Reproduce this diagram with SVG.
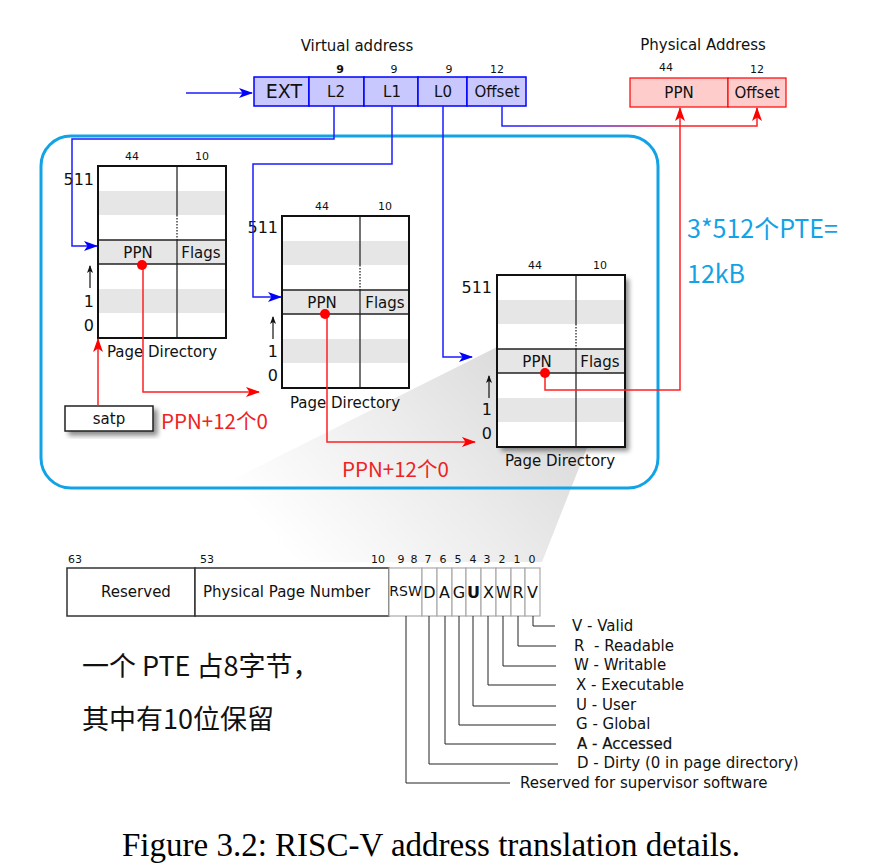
<svg xmlns="http://www.w3.org/2000/svg" width="879" height="866" viewBox="0 0 879 866">
<style>
.t{font-family:"DejaVu Sans","Liberation Sans",sans-serif;fill:#111}
.s11{font-size:11px}
.s15{font-size:15px}
.s16{font-size:16px}
.m{text-anchor:middle}
.e{text-anchor:end}
.cell{stroke:#0000ff;stroke-width:1.5;fill:#c8c8ff}
.pcell{stroke:#ff0000;stroke-width:1.2;fill:#ffcccc}
.bl{stroke:#1c1cff;stroke-width:1.5;fill:none}
.rd{stroke:#ff2020;stroke-width:1.5;fill:none}
.gr{fill:#e6e6e6}
.div{stroke:#444;stroke-width:1.5}
.box{fill:none;stroke:#111;stroke-width:2}
.rowl{stroke:#222;stroke-width:1.5}
.up{stroke:#111;stroke-width:1.2}
.lead{stroke:#222;stroke-width:1;fill:none}
.flag{fill:#fff;stroke:#aaa;stroke-width:1.2}
.cn{font-family:"Noto Sans CJK SC",sans-serif}
</style>
<defs>
<marker id="ab" viewBox="0 0 14 10" refX="13" refY="5" markerWidth="14" markerHeight="10" markerUnits="userSpaceOnUse" orient="auto"><path d="M0,0 L14,5 L0,10 L3.5,5 z" fill="#0000ff"/></marker>
<marker id="ar" viewBox="0 0 14 10" refX="13" refY="5" markerWidth="14" markerHeight="10" markerUnits="userSpaceOnUse" orient="auto"><path d="M0,0 L14,5 L0,10 L3.5,5 z" fill="#ff0000"/></marker>
<marker id="ak" viewBox="0 0 8 6" refX="7" refY="3" markerWidth="8" markerHeight="6" markerUnits="userSpaceOnUse" orient="auto"><path d="M0,0 L8,3 L0,6 L2,3 z" fill="#111"/></marker>
<linearGradient id="off" gradientUnits="userSpaceOnUse" x1="502" y1="0" x2="757" y2="0"><stop offset="0" stop-color="#2020ff"/><stop offset="0.35" stop-color="#5a2ad0"/><stop offset="0.7" stop-color="#ff2020"/><stop offset="1" stop-color="#ff2020"/></linearGradient>
<linearGradient id="shade" gradientUnits="userSpaceOnUse" x1="560" y1="350" x2="300" y2="570"><stop offset="0" stop-color="#d6d6d6"/><stop offset="0.5" stop-color="#ececec"/><stop offset="1" stop-color="#ffffff"/></linearGradient>
<filter id="sh" x="-20%" y="-20%" width="150%" height="150%"><feGaussianBlur in="SourceAlpha" stdDeviation="2.5"/><feOffset dx="4" dy="4"/><feComponentTransfer><feFuncA type="linear" slope="0.45"/></feComponentTransfer><feMerge><feMergeNode/><feMergeNode in="SourceGraphic"/></feMerge></filter>
</defs>
<rect width="879" height="866" fill="#fff"/>

<!-- zoom shading -->
<polygon points="497,347 590,440 542,562 68,562" fill="url(#shade)"/>

<!-- container -->
<rect id="container" x="41" y="136" width="617" height="352" rx="30" ry="30" fill="none" stroke="#12a3e6" stroke-width="3"/>

<!-- virtual address -->
<g id="vaddr">
<text class="t s15 m" x="357" y="51">Virtual address</text>
<rect class="cell" x="254" y="77" width="55" height="29"/>
<rect class="cell" x="309" y="77" width="55" height="29"/>
<rect class="cell" x="364" y="77" width="54" height="29"/>
<rect class="cell" x="418" y="77" width="49" height="29"/>
<rect class="cell" x="467" y="77" width="59" height="29"/>
<text class="t m" style="font-size:19px" x="284" y="98">EXT</text>
<text class="t s15 m" x="336" y="97">L2</text>
<text class="t s15 m" x="392" y="97">L1</text>
<text class="t s15 m" x="443" y="97">L0</text>
<text class="t s15 m" x="497" y="97">Offset</text>
<text class="t s11 m" x="340" y="73" font-weight="bold">9</text>
<text class="t s11 m" x="394" y="73">9</text>
<text class="t s11 m" x="449" y="73">9</text>
<text class="t s11 m" x="497" y="73">12</text>
</g>

<!-- physical address -->
<g id="paddr">
<text class="t s15 m" x="703" y="50">Physical Address</text>
<rect class="pcell" x="630" y="78" width="98" height="29"/>
<rect class="pcell" x="728" y="78" width="58" height="29"/>
<text class="t s15 m" x="679" y="98">PPN</text>
<text class="t s15 m" x="757" y="98">Offset</text>
<text class="t s11 m" x="666" y="71">44</text>
<text class="t s11 m" x="757" y="73">12</text>
</g>

<!-- page directory 1 -->
<g id="pd1">
<rect x="98" y="166" width="128" height="172" fill="#fff"/>
<rect class="gr" x="98" y="191" width="128" height="24"/>
<rect class="gr" x="98" y="240" width="128" height="24"/>
<rect class="gr" x="98" y="289" width="128" height="24"/>
<line class="div" x1="177" y1="166" x2="177" y2="215"/>
<line class="div" x1="177" y1="215" x2="177" y2="240" stroke-dasharray="1.5,1.5"/>
<line class="div" x1="177" y1="240" x2="177" y2="338"/>
<line class="rowl" x1="98" y1="240" x2="226" y2="240"/>
<line class="rowl" x1="98" y1="264" x2="226" y2="264"/>
<rect class="box" x="98" y="166" width="128" height="172"/>
<text class="t s15 m" x="138" y="258">PPN</text>
<text class="t s15 m" x="201" y="258">Flags</text>
<text class="t s11 m" x="132" y="160">44</text>
<text class="t s11 m" x="202" y="160">10</text>
<text class="t s16 e" x="94" y="185">511</text>
<text class="t s16 e" x="94" y="307">1</text>
<text class="t s16 e" x="94" y="331">0</text>
<line class="up" x1="90" y1="288" x2="90" y2="266" marker-end="url(#ak)"/>
<text class="t s15 m" x="162" y="357">Page Directory</text>
</g>

<!-- page directory 2 -->
<g id="pd2">
<rect x="282" y="216" width="127" height="172" fill="#fff"/>
<rect class="gr" x="282" y="241" width="127" height="24"/>
<rect class="gr" x="282" y="290" width="127" height="24"/>
<rect class="gr" x="282" y="339" width="127" height="24"/>
<line class="div" x1="360" y1="216" x2="360" y2="265"/>
<line class="div" x1="360" y1="265" x2="360" y2="290" stroke-dasharray="1.5,1.5"/>
<line class="div" x1="360" y1="290" x2="360" y2="388"/>
<line class="rowl" x1="282" y1="290" x2="409" y2="290"/>
<line class="rowl" x1="282" y1="314" x2="409" y2="314"/>
<rect class="box" x="282" y="216" width="127" height="172"/>
<text class="t s15 m" x="322" y="308">PPN</text>
<text class="t s15 m" x="385" y="308">Flags</text>
<text class="t s11 m" x="322" y="210">44</text>
<text class="t s11 m" x="385" y="210">10</text>
<text class="t s16 e" x="278" y="233">511</text>
<text class="t s16 e" x="278" y="357">1</text>
<text class="t s16 e" x="278" y="381">0</text>
<line class="up" x1="273" y1="339" x2="273" y2="317" marker-end="url(#ak)"/>
<text class="t s15 m" x="345" y="408">Page Directory</text>
</g>

<!-- page directory 3 -->
<g id="pd3">
<rect x="497" y="275" width="128" height="172" fill="#fff" filter="url(#sh)"/>
<rect class="gr" x="497" y="300" width="128" height="24"/>
<rect class="gr" x="497" y="349" width="128" height="24"/>
<rect class="gr" x="497" y="398" width="128" height="24"/>
<line class="div" x1="576" y1="275" x2="576" y2="324"/>
<line class="div" x1="576" y1="324" x2="576" y2="349" stroke-dasharray="1.5,1.5"/>
<line class="div" x1="576" y1="349" x2="576" y2="447"/>
<line class="rowl" x1="497" y1="349" x2="625" y2="349"/>
<line class="rowl" x1="497" y1="373" x2="625" y2="373"/>
<rect class="box" x="497" y="275" width="128" height="172"/>
<text class="t s15 m" x="537" y="367">PPN</text>
<text class="t s15 m" x="600" y="367">Flags</text>
<text class="t s11 m" x="535" y="269">44</text>
<text class="t s11 m" x="600" y="269">10</text>
<text class="t s16 e" x="492" y="293">511</text>
<text class="t s16 e" x="492" y="415">1</text>
<text class="t s16 e" x="492" y="439">0</text>
<line class="up" x1="489" y1="398" x2="489" y2="376" marker-end="url(#ak)"/>
<text class="t s15 m" x="560" y="466">Page Directory</text>
</g>

<!-- satp -->
<g id="satp">
<rect x="65" y="406" width="88" height="25" fill="#fff" stroke="#222" stroke-width="1.5" filter="url(#sh)"/>
<text class="t s15 m" x="109" y="424">satp</text>
</g>

<!-- connectors -->
<g id="connectors">
<line class="bl" x1="186" y1="93" x2="252" y2="93" marker-end="url(#ab)"/>
<path class="bl" d="M334,106 V139 H72 V246 H97" marker-end="url(#ab)"/>
<path class="bl" d="M392,106 V164 H253 V297 H281" marker-end="url(#ab)"/>
<path class="bl" d="M443,106 V357 H472" marker-end="url(#ab)"/>
<path d="M502,106 V126 H757 V108" fill="none" stroke="url(#off)" stroke-width="1.5" marker-end="url(#ar)"/>
<path class="rd" d="M98,406 V339" marker-end="url(#ar)"/>
<path class="rd" d="M143,265 V392 H259" marker-end="url(#ar)"/>
<path class="rd" d="M327,314 V442 H475" marker-end="url(#ar)"/>
<path class="rd" d="M545,373 V390 H680 V108" marker-end="url(#ar)"/>
<circle cx="142" cy="265" r="5" fill="#ff0000"/>
<circle cx="325" cy="314" r="5" fill="#ff0000"/>
<circle cx="545" cy="373" r="5" fill="#ff0000"/>
</g>

<!-- annotations -->
<text class="cn" x="161" y="429" font-size="20.5" fill="#ee2222">PPN+12个0</text>
<text class="cn" x="342" y="477" font-size="20.5" fill="#ee2222">PPN+12个0</text>
<text class="cn" x="687" y="238" font-size="25" fill="#12a3e6">3*512个PTE=</text>
<text class="cn" x="687" y="283" font-size="25" fill="#12a3e6">12kB</text>

<!-- PTE format -->
<g id="pte">
<rect x="67" y="568" width="128" height="48" fill="#fff" stroke="#333" stroke-width="1.5"/>
<rect x="195" y="568" width="194" height="48" fill="#fff" stroke="#333" stroke-width="1.5"/>
<rect class="flag" x="389" y="568" width="33" height="48"/>
<rect class="flag" x="422" y="568" width="15" height="48"/>
<rect class="flag" x="437" y="568" width="15" height="48"/>
<rect class="flag" x="452" y="568" width="14" height="48"/>
<rect class="flag" x="466" y="568" width="15" height="48"/>
<rect class="flag" x="481" y="568" width="15" height="48"/>
<rect class="flag" x="496" y="568" width="15" height="48"/>
<rect class="flag" x="511" y="568" width="14" height="48"/>
<rect class="flag" x="525" y="568" width="15" height="48"/>
<text class="t s15 m" x="136" y="597">Reserved</text>
<text class="t s15" x="203" y="597">Physical Page Number</text>
<text class="t m" style="font-size:14px" x="405.5" y="596">RSW</text>
<text class="t s16 m" x="429.5" y="598">D</text>
<text class="t s16 m" x="444.5" y="598">A</text>
<text class="t s16 m" x="459" y="598">G</text>
<text class="t s16 m" x="473.5" y="598" font-weight="bold">U</text>
<text class="t s16 m" x="488.5" y="598">X</text>
<text class="t s15 m" x="503.5" y="598">W</text>
<text class="t s16 m" x="518" y="598">R</text>
<text class="t s16 m" x="532.5" y="598">V</text>
<text class="t s11" x="68" y="563">63</text>
<text class="t s11" x="200" y="563">53</text>
<text class="t s11 m" x="378" y="563">10</text>
<text class="t s11 m" x="401" y="563">9</text>
<text class="t s11 m" x="414" y="563">8</text>
<text class="t s11 m" x="428" y="563">7</text>
<text class="t s11 m" x="443" y="563">6</text>
<text class="t s11 m" x="458" y="563">5</text>
<text class="t s11 m" x="473" y="563">4</text>
<text class="t s11 m" x="487" y="563">3</text>
<text class="t s11 m" x="502" y="563">2</text>
<text class="t s11 m" x="517" y="563">1</text>
<text class="t s11 m" x="532" y="563">0</text>
</g>

<!-- flag legend -->
<g id="legend">
<path class="lead" d="M533,616 V626 H555"/>
<path class="lead" d="M518,616 V646 H556"/>
<path class="lead" d="M503,616 V666 H556"/>
<path class="lead" d="M488,616 V685 H556"/>
<path class="lead" d="M473,616 V706 H556"/>
<path class="lead" d="M459,616 V725 H556"/>
<path class="lead" d="M445,616 V744 H556"/>
<path class="lead" d="M429,616 V764 H558"/>
<path class="lead" d="M406,616 V783 H510"/>
<text class="t s15" x="572" y="631">V - Valid</text>
<text class="t s15" x="574" y="651" xml:space="preserve">R  - Readable</text>
<text class="t s15" x="574" y="670">W - Writable</text>
<text class="t s15" x="576" y="690">X - Executable</text>
<text class="t s15" x="576" y="710">U - User</text>
<text class="t s15" x="576" y="729">G - Global</text>
<text class="t s15" x="577" y="749" style="stroke:#111;stroke-width:0.2">A - Accessed</text>
<text class="t s15" x="577" y="768">D - Dirty (0 in page directory)</text>
<text class="t s15" x="520" y="788">Reserved for supervisor software</text>
</g>

<text class="cn" x="82" y="676" font-size="27" fill="#111">一个 PTE 占8字节，</text>
<text class="cn" x="82" y="729" font-size="27" fill="#111">其中有10位保留</text>

<text x="122" y="856" font-family="'Liberation Serif','Times New Roman',serif" font-size="33" fill="#000">Figure 3.2: RISC-V address translation details.</text>
</svg>
